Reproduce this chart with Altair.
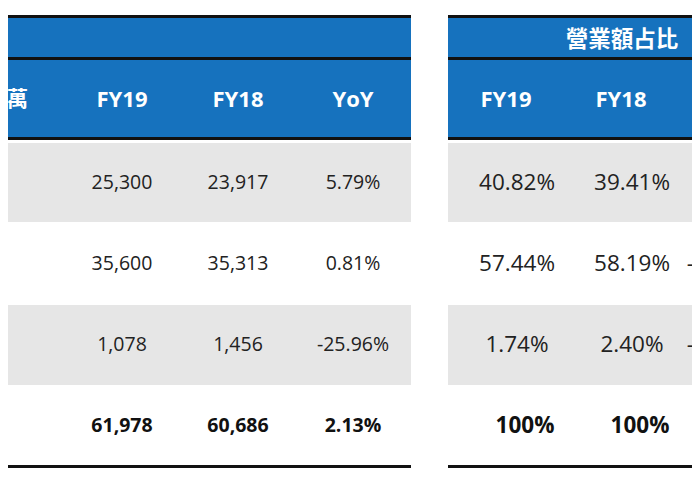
import altair as alt
import pandas as pd

# ---------------- data ----------------
left_headers = ["FY19", "FY18", "YoY"]
right_headers = ["FY19", "FY18", "YoY"]
right_title = "營業額占比"
unit_label = "單位：百萬"
fy19_amount = ["25,300", "35,600", "1,078", "61,978"]
fy18_amount = ["23,917", "35,313", "1,456", "60,686"]
yoy_amount = ["5.79%", "0.81%", "-25.96%", "2.13%"]
fy19_share = ["40.82%", "57.44%", "1.74%", "100%"]
fy18_share = ["39.41%", "58.19%", "2.40%", "100%"]
yoy_share = ["1.41%", "-0.75%", "-0.66%", ""]

# ---------------- layout (view coordinates) ----------------
X0, X1 = 8, 692
Y0, Y1 = 8, 490
left_span = (-200, 411)
right_span = (448, 840)
left_centers = [122, 238, 353]
right_centers = [517, 632, 722]
right_header_centers = [506, 621, 736]
label_right = 28
row_edges = [141, 222, 303, 385, 465]
title_band = (17, 57)
header_band = (60, 137)
rules = [(15, 18), (57, 60), (137, 140), (465, 468)]
title_x, title_y, header_y = 622, 40, 100

BLUE = "#1672BE"
GREY = "#E6E6E6"
INK = "#222222"

rects = []
for span in (left_span, right_span):
    rects.append(dict(x=span[0], x2=span[1], y=title_band[0], y2=title_band[1], fill=BLUE))
    rects.append(dict(x=span[0], x2=span[1], y=header_band[0], y2=header_band[1], fill=BLUE))
    for i in range(4):
        if i % 2 == 0:
            rects.append(dict(x=span[0], x2=span[1], y=row_edges[i] + 2, y2=row_edges[i + 1], fill=GREY))
    for a, b in rules:
        rects.append(dict(x=span[0], x2=span[1], y=a, y2=b, fill="#111111"))
rect_df = pd.DataFrame(rects)

row_centers = [(row_edges[i] + row_edges[i + 1]) / 2 + 1 for i in range(4)]


def cells(cols, centers):
    normal, bold = [], []
    for vals, cx in zip(cols, centers):
        for i, v in enumerate(vals):
            rec = dict(x=cx, y=row_centers[i], text=v)
            (bold if i == 3 else normal).append(rec)
    return pd.DataFrame(normal), pd.DataFrame(bold)


left_normal, left_bold = cells([fy19_amount, fy18_amount, yoy_amount], left_centers)
right_normal, right_bold = cells([fy19_share, fy18_share, yoy_share], right_centers)

header = []
for hs, centers in ((left_headers, left_centers), (right_headers, right_header_centers)):
    for h, cx in zip(hs, centers):
        header.append(dict(x=cx, y=header_y, text=h))
header_df = pd.DataFrame(header)
title_df = pd.DataFrame([dict(x=title_x, y=title_y, text=right_title)])
unit_df = pd.DataFrame([dict(x=label_right, y=header_y, text=unit_label)])

xs = alt.Scale(domain=[X0, X1], nice=False, zero=False)
ys = alt.Scale(domain=[Y0, Y1], nice=False, zero=False, reverse=True)

bg = alt.Chart(rect_df).mark_rect(clip=True).encode(
    x=alt.X("x:Q", scale=xs, axis=None),
    x2="x2:Q",
    y=alt.Y("y:Q", scale=ys, axis=None),
    y2="y2:Q",
    color=alt.Color("fill:N", scale=None),
)


def txt(df, size, weight, color, font, align="center", dx=0):
    return alt.Chart(df).mark_text(
        clip=True, fontSize=size, fontWeight=weight, color=color, font=font,
        align=align, baseline="middle", dx=dx,
    ).encode(
        x=alt.X("x:Q", scale=xs, axis=None),
        y=alt.Y("y:Q", scale=ys, axis=None),
        text="text:N",
    )


chart = alt.layer(
    bg,
    txt(left_normal, 19.5, "normal", INK, "Open Sans"),
    txt(left_bold, 19.5, "bold", "#111111", "Open Sans"),
    txt(right_normal, 22.5, "normal", INK, "Open Sans"),
    txt(right_bold, 22.5, "bold", "#111111", "Open Sans", dx=8),
    txt(header_df, 22, "bold", "white", "Open Sans"),
    txt(title_df, 22.5, "bold", "white", "Noto Sans CJK TC"),
    txt(unit_df, 21, "bold", "white", "Noto Sans CJK TC", align="right"),
).properties(
    width=X1 - X0, height=Y1 - Y0, padding=0,
    background="white",
).configure_view(strokeWidth=0)

chart.save("out.html", embed_options={"renderer": "svg", "actions": False})
